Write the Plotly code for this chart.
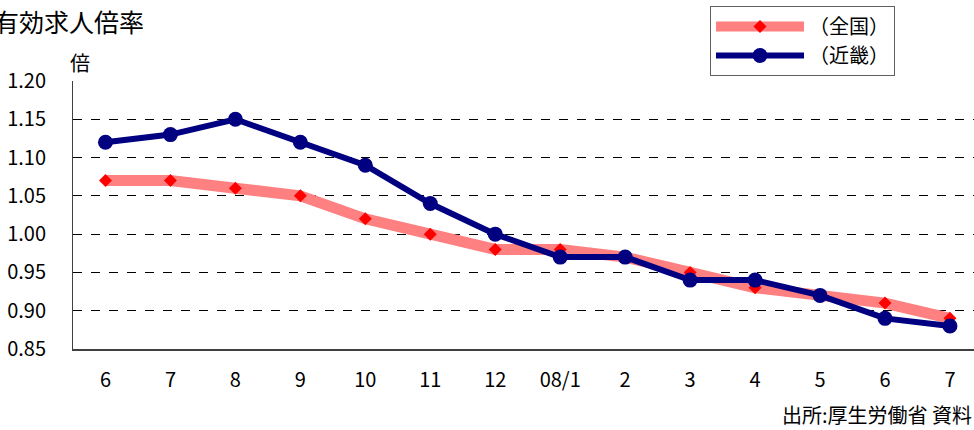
import plotly.graph_objects as go

months = ["6", "7", "8", "9", "10", "11", "12", "08/1", "2", "3", "4", "5", "6", "7"]
zenkoku = [1.07, 1.07, 1.06, 1.05, 1.02, 1.00, 0.98, 0.98, 0.97, 0.95, 0.93, 0.92, 0.91, 0.89]
kinki = [1.12, 1.13, 1.15, 1.12, 1.09, 1.04, 1.00, 0.97, 0.97, 0.94, 0.94, 0.92, 0.89, 0.88]
yticks = [0.85, 0.90, 0.95, 1.00, 1.05, 1.10, 1.15, 1.20]

FONT = "Noto Sans CJK JP, Liberation Sans, sans-serif"
xs = list(range(len(months)))

fig = go.Figure()
fig.add_trace(go.Scatter(
    x=xs, y=zenkoku, name="（全国）", mode="lines+markers",
    line=dict(color="#FF8080", width=11),
    marker=dict(symbol="diamond", color="#FF0000", size=10),
))
fig.add_trace(go.Scatter(
    x=xs, y=kinki, name="（近畿）", mode="lines+markers",
    line=dict(color="#000080", width=6),
    marker=dict(symbol="circle", color="#000080", size=15),
))

fig.update_xaxes(
    range=[-0.5, 13.37], tickvals=xs, ticktext=months,
    showgrid=False, zeroline=False, automargin=False,
    showline=True, linecolor="#404040", linewidth=2,
    ticks="", ticklabelstandoff=12,
    tickfont=dict(size=20, color="black", family=FONT),
)
fig.update_yaxes(
    range=[0.85, 1.20], tickvals=yticks, tickformat=".2f",
    showgrid=True, gridcolor="black", griddash="dash", gridwidth=1,
    zeroline=False, showline=True, linecolor="#404040", linewidth=1,
    ticks="", ticklabelstandoff=22, automargin=False,
    tickfont=dict(size=20, color="black", family=FONT),
)

fig.update_layout(
    width=974, height=430,
    margin=dict(l=73, r=0, t=81, b=81, autoexpand=False),
    plot_bgcolor="white", paper_bgcolor="white",
    font=dict(family=FONT, color="black"),
    showlegend=True,
    legend=dict(
        x=0.707, y=1.28, xanchor="left", yanchor="top",
        bordercolor="#606060", borderwidth=1, bgcolor="white",
        font=dict(size=20, family=FONT), itemwidth=88,
        tracegroupgap=0,
    ),
    annotations=[
        dict(text="有効求人倍率", xref="paper", yref="paper",
             x=-0.09, y=1.225, xanchor="left", yanchor="middle",
             showarrow=False, font=dict(size=25, family=FONT)),
        dict(text="倍", xref="paper", yref="paper",
             x=-0.006, y=1.07, xanchor="left", yanchor="middle",
             showarrow=False, font=dict(size=20, family=FONT)),
        dict(text="出所:厚生労働省 資料", xref="paper", yref="paper",
             x=1.0, y=-0.246, xanchor="right", yanchor="middle",
             showarrow=False, font=dict(size=20, family=FONT)),
    ],
)

fig.write_html("out.html", config={"displayModeBar": False},
               post_script="document.body.style.margin='0';")
